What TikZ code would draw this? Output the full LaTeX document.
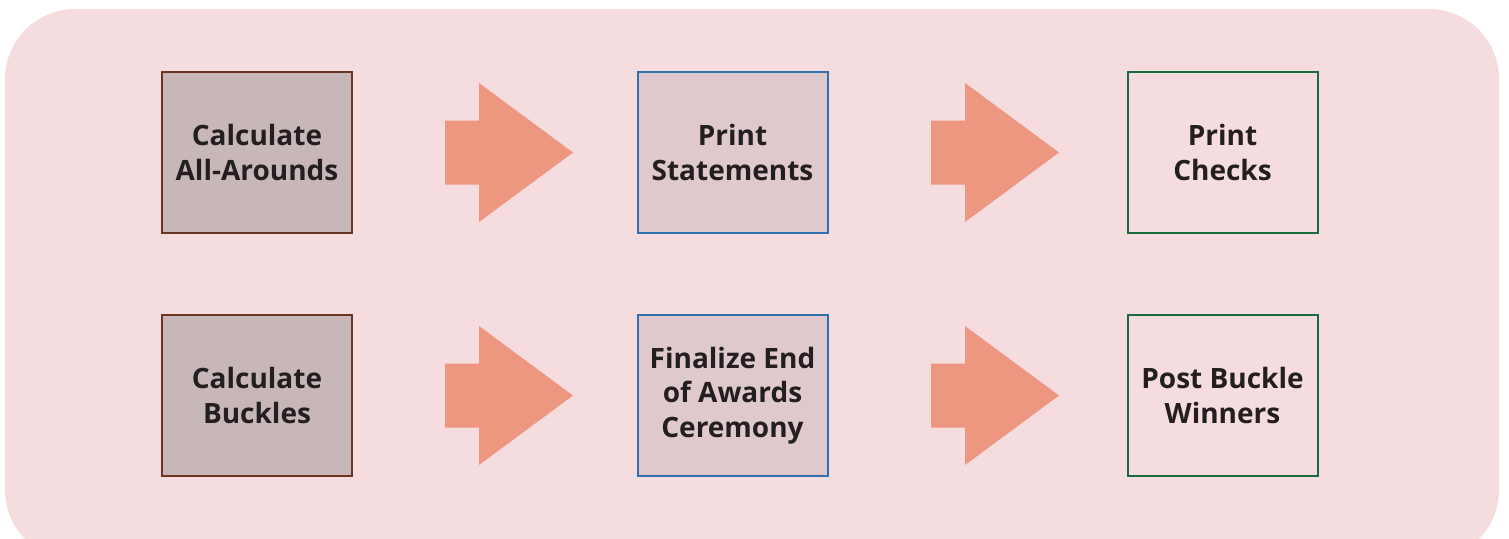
\documentclass[tikz,border=0pt]{standalone}
\usepackage{fontspec}
\setmainfont{Open Sans}
\usepackage{xcolor}
\usepackage{tikz}
\usetikzlibrary{positioning}
\definecolor{panelpink}{HTML}{F5DCDF}
\definecolor{calcfill}{HTML}{C8B7B8}
\definecolor{calcline}{HTML}{6B3420}
\definecolor{printfill}{HTML}{DFC9CC}
\definecolor{printline}{HTML}{3070B0}
\definecolor{postline}{HTML}{1A6B3A}
\definecolor{arrowsalmon}{HTML}{EE9780}
\definecolor{textdark}{HTML}{231F20}
\tikzset{
	task/.style={rectangle, line width=1pt, minimum width=95pt, minimum height=80.5pt,
		align=center, text=textdark, inner sep=0pt,
		font=\fontsize{14}{17.2}\selectfont\bfseries},
	calc/.style={task, draw=calcline, fill=calcfill},
	prnt/.style={task, draw=printline, fill=printfill},
	post/.style={task, draw=postline}
}
\newcommand{\fatarrow}[1]{%
	\fill[arrowsalmon] (#1) -- ++(-94,-69.5) -- ++(0,37.5) -- ++(-34,0) -- ++(0,64)
		-- ++(34,0) -- ++(0,37.5) -- cycle;}

\begin{document}
\begin{tikzpicture}[x=0.5pt, y=-0.5pt]
	\useasboundingbox (0,0) rectangle (1509,538);
	\clip (0,0) rectangle (1509,538);
	\fill[panelpink, rounded corners=35pt] (5,9) rectangle (1499,560);
	% first row
	\node[calc] (allround) at (257,152.5) {Calculate\\All-Arounds};
	\node[prnt] (statements) at (732.5,152.5) {Print\\Statements};
	\node[post] (checks) at (1222.5,152.5) {Print\\Checks};
	% second row
	\node[calc] (buckles) at (257,395.5) {Calculate\\Buckles};
	\node[prnt] (ceremony) at (732.5,395.5) {Finalize End\\of Awards\\Ceremony};
	\node[post] (winners) at (1222.5,395.5) {Post Buckle\\Winners};
	% arrows between the boxes
	\coordinate (tipA) at (573,152.5);
	\coordinate (tipB) at (1059,152.5);
	\coordinate (tipC) at (573,395.5);
	\coordinate (tipD) at (1059,395.5);
	\fatarrow{tipA}
	\fatarrow{tipB}
	\fatarrow{tipC}
	\fatarrow{tipD}
\end{tikzpicture}
\end{document}
